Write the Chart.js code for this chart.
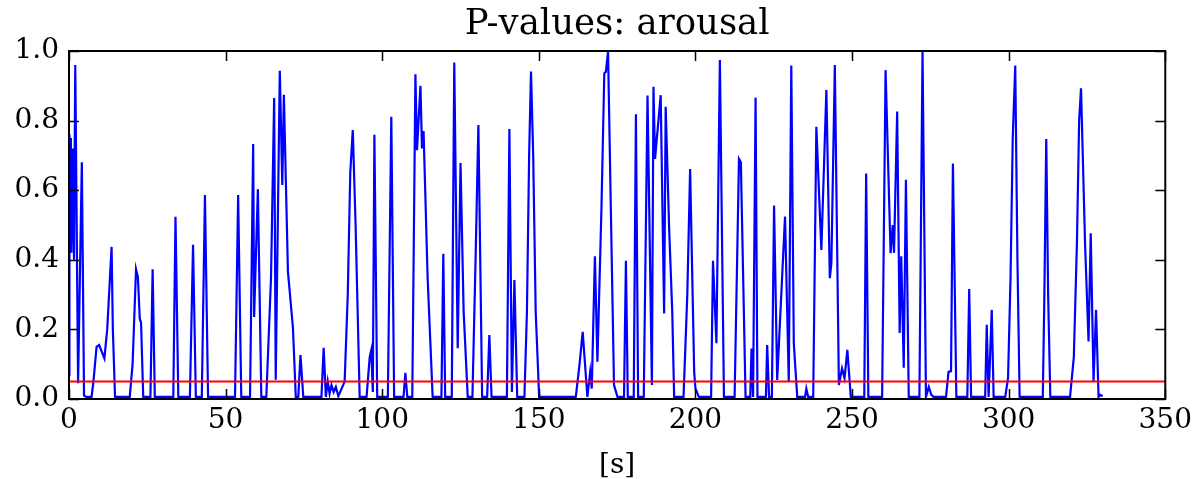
<!DOCTYPE html>
<html>
<head>
<meta charset="utf-8">
<script src="https://cdn.jsdelivr.net/npm/chart.js@4.4.1/dist/chart.umd.min.js"></script>
<style>
html,body{margin:0;padding:0;background:#fff;}
canvas{display:block;background:#fff;}
</style>
</head>
<body>
<canvas id="c" width="1197" height="479"></canvas>
<script>
// ---- data ----
const times = [
0,0.15,0.4,0.6,0.8,1.0,1.2,1.4,1.6,2.0,2.9,4.1,4.8,5.5,7.2,7.8,8.8,9.6,10.5,11.3,12.2,13.6,14.0,14.7,
19.4,20.3,21.4,22.0,22.6,23.0,23.7,26.0,26.7,27.4,33.3,34.0,34.9,38.6,39.6,40.5,42.4,43.4,44.4,
53.0,54.0,55.0,57.8,58.8,59.1,60.3,61.4,63.0,64.5,65.5,66.0,67.3,68.1,68.6,69.9,71.5,72.4,73.2,73.9,74.8,
80.6,81.3,82.0,82.6,83.2,83.8,84.5,85.2,86.0,88.0,89.0,89.8,90.6,91.5,92.8,95.0,96.0,96.5,97.0,97.5,98.4,
101.8,102.9,103.8,106.8,107.4,108.0,109.6,110.6,111.1,112.2,112.7,113.2,114.5,116.1,118.9,119.5,120.1,
122.2,123.0,124.1,125.0,126.0,127.3,128.8,129.8,130.7,131.9,133.5,134.2,134.9,139.8,140.6,141.4,142.2,143.1,
145.4,146.2,146.9,147.5,148.2,149.0,150.1,161.8,163.0,164.0,165.5,166.4,166.9,167.9,168.7,170.0,170.9,171.4,172.1,173.0,174.0,175.1,
177.2,177.8,178.4,180.3,181.0,181.7,183.5,184.7,186.1,186.6,187.1,188.9,190.0,190.5,191.6,192.6,193.2,
196.2,197.4,198.3,199.6,200.0,201.1,205.0,205.6,206.7,207.8,209.1,212.5,213.9,214.5,216.0,217.5,217.9,218.4,219.2,219.8,
222.5,222.9,223.5,224.4,225.1,226.1,228.6,229.8,230.6,231.4,232.5,235.0,235.4,236.0,237.6,238.6,240.2,241.8,242.9,243.4,244.5,245.8,
246.8,247.6,248.5,249.6,253.9,254.5,255.2,259.6,260.7,262.3,263.0,263.4,264.4,265.2,265.7,266.5,267.2,268.1,
271.5,272.5,273.6,274.5,275.3,276.0,280.0,280.8,281.6,282.2,283.3,286.8,287.4,288.0,292.5,293.0,293.6,294.6,295.2,
298.9,299.8,300.6,301.3,302.1,302.8,303.5,310.9,311.4,312.0,312.6,313.3,319.6,320.8,321.8,322.5,323.1,324.4,325.5,326.2,327.1,327.9,328.7,329.3,330.0
];
const pvalues = [
0.07,0.76,0.50,0.75,0.42,0.72,0.45,0.66,0.40,0.96,0.045,0.68,0.01,0.006,0.006,0.05,0.15,0.155,0.135,0.117,0.2,0.437,0.2,0.006,
0.006,0.10,0.373,0.35,0.23,0.22,0.006,0.006,0.373,0.006,0.006,0.524,0.006,0.006,0.443,0.006,0.006,0.586,0.006,
0.006,0.586,0.006,0.006,0.733,0.236,0.603,0.006,0.006,0.35,0.865,0.055,0.943,0.615,0.874,0.366,0.204,0.006,0.006,0.126,0.006,
0.006,0.147,0.006,0.05,0.015,0.04,0.02,0.035,0.008,0.05,0.30,0.65,0.773,0.50,0.006,0.006,0.12,0.14,0.02,0.759,0.006,
0.006,0.811,0.006,0.006,0.075,0.006,0.006,0.933,0.715,0.90,0.72,0.77,0.348,0.006,0.006,0.417,0.006,
0.006,0.967,0.146,0.678,0.25,0.006,0.006,0.40,0.787,0.006,0.006,0.184,0.006,0.006,0.776,0.02,0.342,0.006,
0.006,0.25,0.70,0.941,0.70,0.25,0.006,0.006,0.10,0.193,0.006,0.078,0.03,0.41,0.107,0.55,0.936,0.94,0.998,0.54,0.04,0.006,
0.006,0.397,0.006,0.006,0.818,0.006,0.006,0.872,0.04,0.897,0.69,0.873,0.246,0.84,0.49,0.25,0.006,
0.006,0.30,0.661,0.078,0.03,0.006,0.006,0.397,0.16,0.974,0.006,0.006,0.69,0.68,0.006,0.006,0.145,0.006,0.866,0.006,
0.006,0.155,0.006,0.006,0.556,0.055,0.524,0.05,0.958,0.16,0.006,0.006,0.03,0.006,0.006,0.782,0.428,0.888,0.347,0.39,0.96,0.04,
0.088,0.06,0.141,0.006,0.006,0.648,0.006,0.006,0.945,0.419,0.50,0.42,0.826,0.19,0.41,0.09,0.63,0.006,
0.006,0.998,0.006,0.035,0.012,0.006,0.006,0.078,0.08,0.677,0.006,0.006,0.316,0.006,0.006,0.213,0.006,0.256,0.006,
0.006,0.06,0.35,0.75,0.958,0.40,0.006,0.006,0.30,0.747,0.30,0.006,0.006,0.12,0.45,0.80,0.893,0.443,0.165,0.476,0.05,0.256,0.006,0.012,0.008
];
const thresholdValue = 0.05;
const xTickValues = [0,50,100,150,200,250,300,350];
const yTickValues = [0.0,0.2,0.4,0.6,0.8,1.0];
const titleText = 'P-values: arousal';
const xLabel = '[s]';

const seriesPoints = times.map((t,i)=>({x:t,y:pvalues[i]}));
const thresholdPoints = [{x:xTickValues[0],y:thresholdValue},{x:xTickValues[xTickValues.length-1],y:thresholdValue}];

const FONT = '"DejaVu Serif", "Liberation Serif", serif';

// centre the title over the plot area (as matplotlib does)
const titleOverPlot = {
  id:'titleOverPlot',
  afterLayout(chart){
    const tb = chart.titleBlock;
    if (tb){ tb.left = chart.chartArea.left; tb.right = chart.chartArea.right; tb.width = tb.right - tb.left; }
  }
};

const innerTicks = {
  id:'innerTicks',
  afterDatasetsDraw(chart){
    const {ctx, chartArea:a, scales:{x,y}} = chart;
    const L = 10;
    ctx.save();
    ctx.strokeStyle = '#000';
    ctx.lineWidth = 1.5;
    ctx.beginPath();
    xTickValues.forEach(v=>{
      const px = Math.round(x.getPixelForValue(v))+0.5;
      ctx.moveTo(px,a.bottom); ctx.lineTo(px,a.bottom-L);
      ctx.moveTo(px,a.top); ctx.lineTo(px,a.top+L);
    });
    yTickValues.forEach(v=>{
      const py = Math.round(y.getPixelForValue(v))+0.5;
      ctx.moveTo(a.left,py); ctx.lineTo(a.left+L,py);
      ctx.moveTo(a.right,py); ctx.lineTo(a.right-L,py);
    });
    ctx.stroke();
    ctx.lineWidth = 2;
    ctx.strokeRect(a.left, a.top, a.right-a.left, a.bottom-a.top);
    ctx.restore();
  }
};

new Chart(document.getElementById('c'), {
  type:'line',
  data:{
    datasets:[
      {data:thresholdPoints, borderColor:'#ff0000', borderWidth:2, pointRadius:0, fill:false, tension:0},
      {data:seriesPoints, borderColor:'#0000ff', borderWidth:2.2, pointRadius:0, fill:false, tension:0}
    ]
  },
  options:{
    responsive:false,
    devicePixelRatio:1,
    animation:false,
    layout:{padding:{left:0,right:30,top:0,bottom:0}},
    plugins:{
      legend:{display:false},
      tooltip:{enabled:false},
      title:{display:true, text:titleText, color:'#000',
        font:{family:FONT,size:35.5,weight:'normal',lineHeight:1.2},
        padding:{top:3,bottom:5.4}}
    },
    scales:{
      x:{type:'linear', min:0, max:350, bounds:'ticks',
        grid:{display:false, drawTicks:false},
        border:{display:false},
        afterBuildTicks(s){ s.ticks = xTickValues.map(v=>({value:v})); },
        afterFit(s){ s.height = 80; },
        ticks:{color:'#000', padding:5, maxRotation:0, autoSkip:false,
          font:{family:FONT,size:28,lineHeight:1.2},
          callback:(v)=>String(v)},
        title:{display:true, text:xLabel, color:'#000',
          font:{family:FONT,size:28,lineHeight:1.0}, padding:{top:0,bottom:-1}}
      },
      y:{type:'linear', min:0, max:1,
        grid:{display:false, drawTicks:false},
        border:{display:false},
        afterBuildTicks(s){ s.ticks = yTickValues.map(v=>({value:v})); },
        afterFit(s){ s.width = 69; },
        ticks:{color:'#000', padding:10, autoSkip:false,
          font:{family:FONT,size:28,lineHeight:1.2},
          callback:(v)=>Number(v).toFixed(1)}
      }
    }
  },
  plugins:[titleOverPlot, innerTicks]
});
</script>
</body>
</html>
